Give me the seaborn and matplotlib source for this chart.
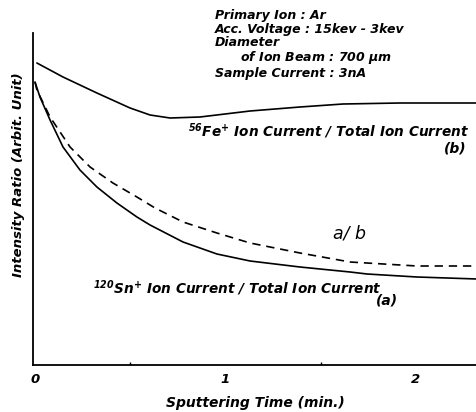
import numpy as np
import pandas as pd
import matplotlib
matplotlib.use("Agg")
import matplotlib.pyplot as plt
import seaborn as sns

# Data (arbitrary units)
fe_t = [0.01, 0.147, 0.325, 0.499, 0.604, 0.709, 0.866, 1.129, 1.391, 1.617, 1.916, 2.283, 2.32]
fe_y = [302, 288, 272, 257, 250, 247, 248, 254, 258, 261, 262, 262, 262]

sn_t = [0.0, 0.026, 0.079, 0.147, 0.236, 0.325, 0.430, 0.535, 0.604, 0.777, 0.955,
        1.129, 1.391, 1.654, 1.743, 2.005, 2.32]
sn_y = [283, 268, 245, 218, 195, 178, 162, 148, 140, 123, 111,
        104, 98, 93, 91, 88, 86]

ratio_t = [0.0, 0.010, 0.079, 0.184, 0.289, 0.409, 0.535, 0.630, 0.777, 0.955,
           1.129, 1.391, 1.654, 2.005, 2.32]
ratio_y = [283, 275, 248, 218, 198, 182, 168, 157, 143, 132,
           122, 112, 103, 99, 99]

xticks = [0, 1, 2]
xtick_labels = ["0", "1", "2"]

sns.set_theme(style="white")
plt.rcParams["font.family"] = ["DejaVu Sans"]
plt.rcParams["mathtext.fontset"] = "custom"
plt.rcParams["mathtext.rm"] = "DejaVu Sans:italic:bold"
plt.rcParams["mathtext.it"] = "DejaVu Sans:italic:bold"
plt.rcParams["mathtext.default"] = "rm"

fig = plt.figure(figsize=(4.77, 4.12), dpi=100)
W, H = 477, 412
ax = fig.add_axes([33 / W, (H - 365) / H, (477 - 33) / W, (365 - 33) / H])

fe = pd.DataFrame({"t": fe_t, "y": fe_y})
sn = pd.DataFrame({"t": sn_t, "y": sn_y})
ra = pd.DataFrame({"t": ratio_t, "y": ratio_y})

sns.lineplot(data=fe, x="t", y="y", ax=ax, color="black", lw=1.2)
sns.lineplot(data=sn, x="t", y="y", ax=ax, color="black", lw=1.2)
sns.lineplot(data=ra, x="t", y="y", ax=ax, color="black", lw=1.2,
             linestyle=(0, (5, 3.5)))

x0 = 35
ppm = 190.5
ax.set_xlim((33 - x0) / ppm, (477 - x0) / ppm)
ax.set_ylim(0, 332)

for s in ["top", "right"]:
    ax.spines[s].set_visible(False)
for s in ["left", "bottom"]:
    ax.spines[s].set_color("black")
    ax.spines[s].set_linewidth(1.3)

ax.set_yticks([])
ax.set_xticks(xticks)
ax.set_xticklabels(xtick_labels, fontsize=9.5, fontweight="bold", fontstyle="italic", color="black")
ax.set_xticks([0.5, 1.5], minor=True)
ax.tick_params(axis="x", which="major", direction="in", length=5, width=1, pad=6,
               colors="black", labelcolor="black")
ax.tick_params(axis="x", which="minor", direction="in", length=2, width=1, bottom=True, colors="black")

ax.set_xlabel("Sputtering Time (min.)", fontsize=10, fontweight="bold", fontstyle="italic",
              labelpad=7, color="black")
ax.set_ylabel("Intensity Ratio (Arbit. Unit)", fontsize=9.5, fontweight="bold", fontstyle="italic",
              color="black")
ax.yaxis.set_label_coords(-8 / 444, (365 - 175) / 332)


def txt(xp, yp, s, **kw):
    d = dict(fontsize=9, fontweight="bold", fontstyle="italic", color="black")
    d.update(kw)
    fig.text(xp / W, 1 - yp / H, s, **d)


txt(215, 15, "Primary Ion : Ar", va="center")
txt(215, 29, "Acc. Voltage : 15kev - 3kev", va="center")
txt(215, 43, "Diameter", va="center")
txt(240, 58, r"of Ion Beam : 700 $\mu$m", va="center")
txt(215, 73, "Sample Current : 3nA", va="center")

txt(188, 131, r"$^{56}$Fe$^{+}$ Ion Current / Total Ion Current", fontsize=9.8, va="center")
txt(455, 148, "(b)", fontsize=10, ha="center", va="center")
txt(350, 233, "a/ b", fontsize=12.5, fontweight="normal", ha="center", va="center")
txt(93, 288, r"$^{120}$Sn$^{+}$ Ion Current / Total Ion Current", fontsize=9.8, va="center")
txt(387, 301, "(a)", fontsize=10, ha="center", va="center")

fig.savefig("out.png", dpi=100)
